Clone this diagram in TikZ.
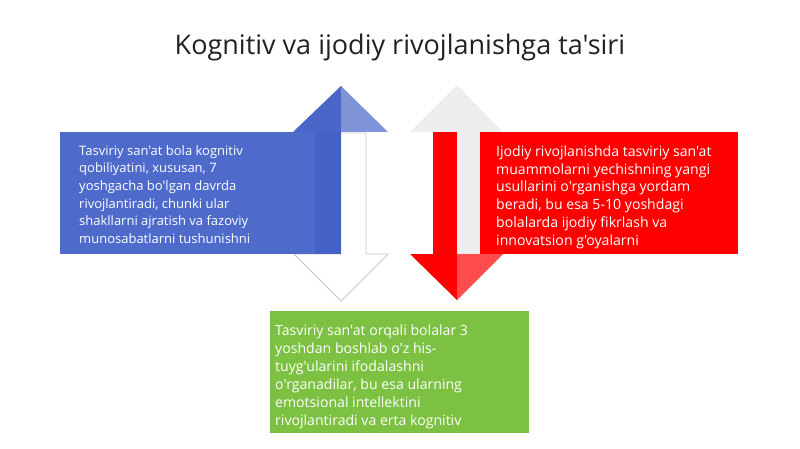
\documentclass[tikz,border=0pt]{standalone}
\usepackage{fontspec}
\setmainfont{Open Sans}[Ligatures=TeXOff]
\definecolor{boxblue}{HTML}{4E6BCB}
\definecolor{shaftblue}{HTML}{4462C6}
\definecolor{headblue}{HTML}{4A66C8}
\definecolor{headblue2}{HTML}{7F93D8}
\definecolor{boxred}{HTML}{FF0000}
\definecolor{headred2}{HTML}{FF4D4D}
\definecolor{boxgreen}{HTML}{7CC142}
\definecolor{lightgray2}{HTML}{EEEEEE}
\definecolor{titlegray}{HTML}{222222}
\begin{document}
\begin{tikzpicture}[x=1pt,y=-1pt,
  bodytext/.style={anchor=base west, align=left, inner sep=0, text=white,
    font=\fontsize{13}{17.7}\selectfont},
  largetext/.style={bodytext, font=\fontsize{14.1}{17.7}\selectfont},
  outlinearrow/.style={fill=white, draw=black!22, line width=0.8pt, line join=miter}]
\useasboundingbox (0,0) rectangle (800,449);
\fill[white] (0,0) rectangle (800,449);

% title
\node[anchor=base, inner sep=0, text=titlegray, font=\fontsize{27}{32}\selectfont] (title) at (400,55) {Kognitiv va ijodiy rivojlanishga ta'siri};

% left pair: white down arrow (behind)
\draw[outlinearrow] (341,133) -- (366,133) -- (366,254) -- (388,254) -- (341,301) -- (294,254) -- (341,254) -- cycle;
% blue up arrow
\fill[headblue] (293,132) -- (341,86) -- (341,132) -- cycle;
\fill[headblue2] (341,86) -- (388,132) -- (341,132) -- cycle;
\fill[shaftblue] (315,131.5) rectangle (341,254);
\path[fill=boxblue] (60,132) rectangle (315,254);
\coordinate (bluebox) at (60,132);

% right pair: light gray up arrow (behind)
\fill[lightgray2] (410,132) -- (457,85) -- (503,132) -- cycle;
\fill[lightgray2] (457,131.5) rectangle (480,254);
% red down arrow
\fill[boxred] (433,132) rectangle (457,254.5);
\fill[boxred] (410,254) -- (457,254) -- (457,300) -- cycle;
\fill[headred2] (457,254) -- (503,254) -- (457,300) -- cycle;
\path[fill=boxred] (480,132) rectangle (738,254);
\coordinate (redbox) at (480,132);

% green box
\path[fill=boxgreen] (270,311) rectangle (529,433);
\coordinate (greenbox) at (270,311);

% texts (anchored at the baseline of the last line)
\node[bodytext] (bluetext) at (79,243.5) {Tasviriy san'at bola kognitiv\\qobiliyatini, xususan, 7\\yoshgacha bo'lgan davrda\\rivojlantiradi, chunki ular\\shakllarni ajratish va fazoviy\\munosabatlarni tushunishni};
\node[largetext] (redtext) at (496,245) {Ijodiy rivojlanishda tasviriy san'at\\muammolarni yechishning yangi\\usullarini o'rganishga yordam\\beradi, bu esa 5-10 yoshdagi\\bolalarda ijodiy fikrlash va\\innovatsion g'oyalarni};
\node[largetext, font=\fontsize{14.1}{18}\selectfont] (greentext) at (275,425) {Tasviriy san'at orqali bolalar 3\\yoshdan boshlab o'z his-\\tuyg'ularini ifodalashni\\o'rganadilar, bu esa ularning\\emotsional intellektini\\rivojlantiradi va erta kognitiv};
\end{tikzpicture}
\end{document}
